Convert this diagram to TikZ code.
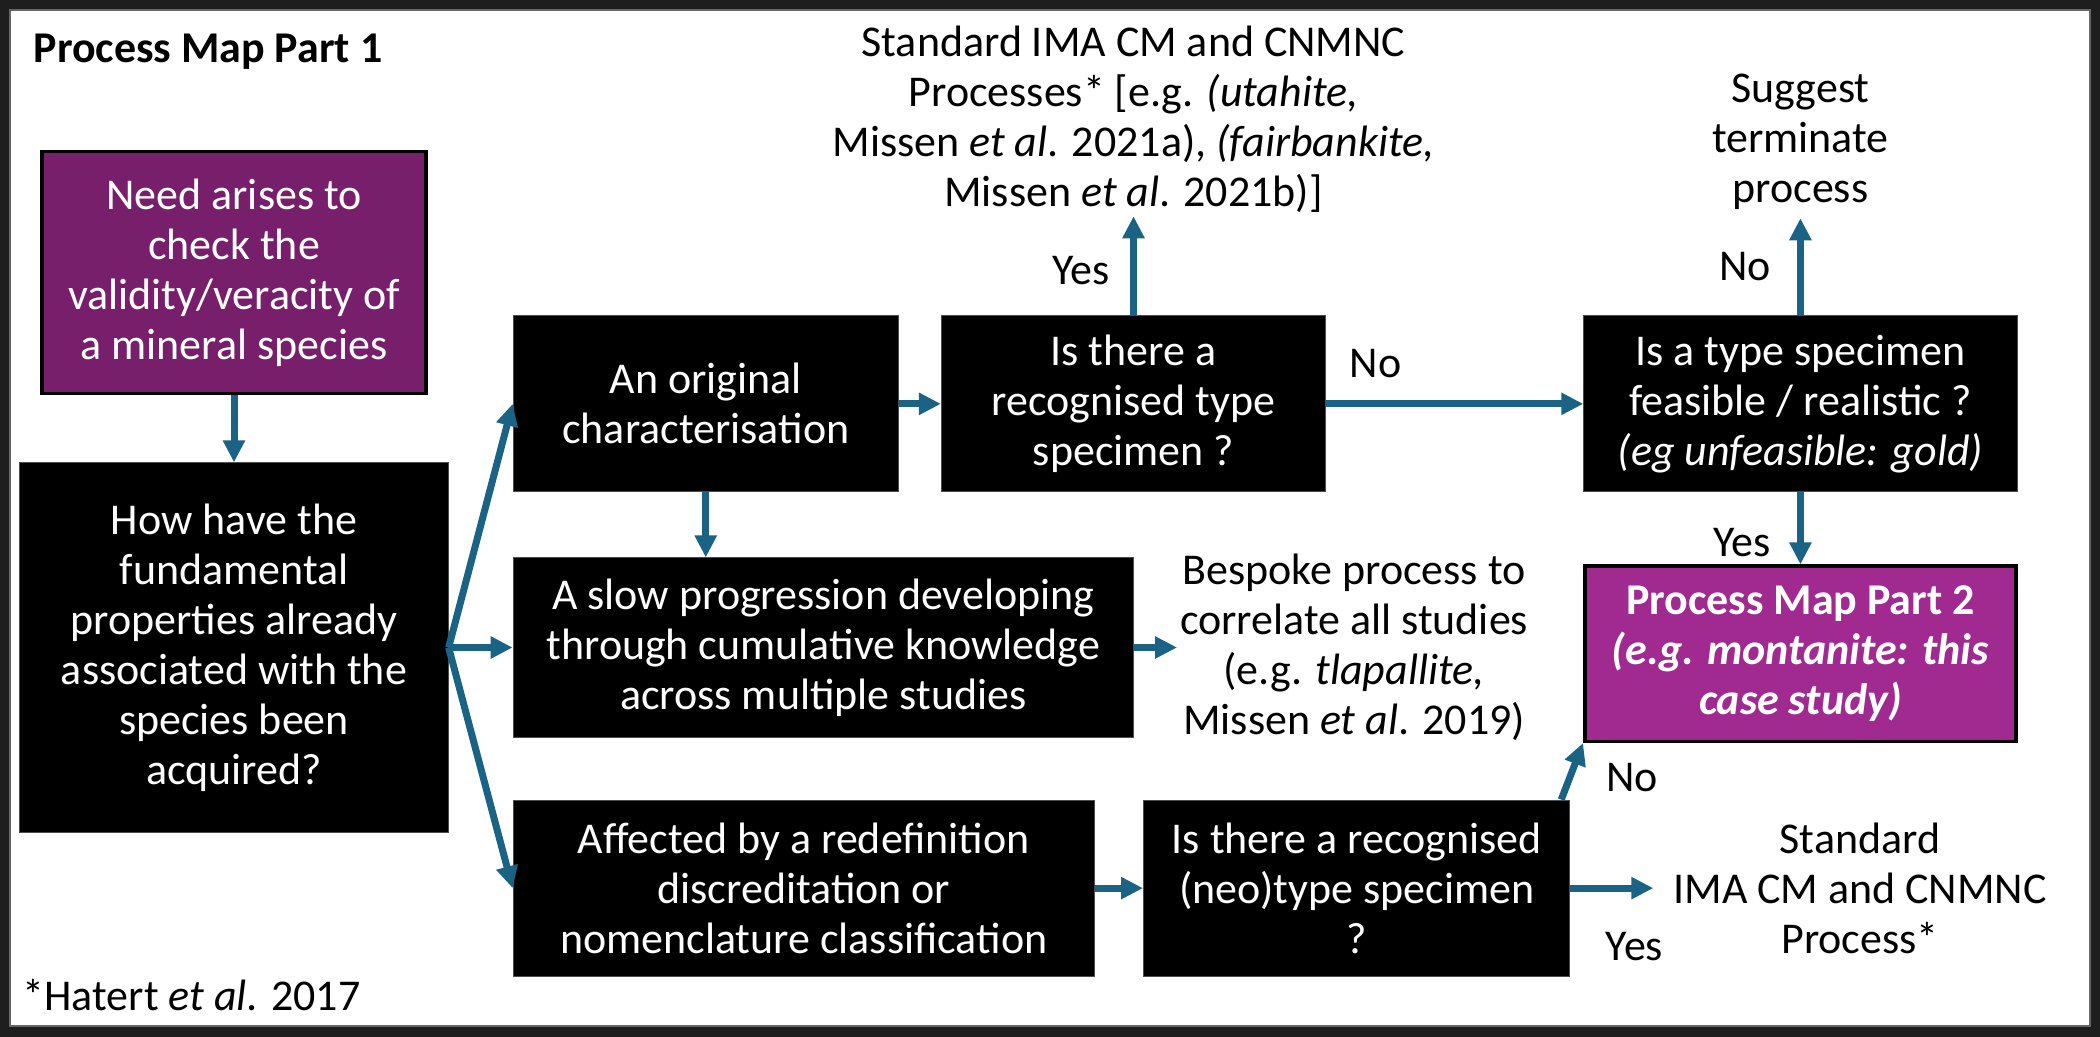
\documentclass[tikz,border=0pt]{standalone}
\usepackage{fontspec}
\setmainfont{Carlito}
\usetikzlibrary{positioning,arrows.meta}
\definecolor{arrowblue}{RGB}{27,99,133}
\definecolor{darkpurple}{RGB}{120,31,108}
\definecolor{lightpurple}{RGB}{160,42,144}
\definecolor{framedark}{RGB}{30,30,30}
\newcommand{\bodyfont}{\fontsize{12.5pt}{14.2pt}\selectfont}

\begin{document}
\begin{tikzpicture}[
		x=0.01cm, y=-0.01cm,
		node distance=0.6cm and 0.5cm,
		blackbox/.style={draw=gray!60!black, line width=0.1mm, fill=black, text=white, align=center, inner sep=0pt, minimum height=1.76cm, font=\bodyfont},
		purplebox/.style={blackbox, draw=black, line width=0.35mm},
		freetext/.style={align=center, inner sep=0pt, font=\bodyfont},
		lbl/.style={inner sep=0pt, text=black, font=\bodyfont},
		arr/.style={-{Triangle[length=2.2mm,width=2.1mm]}, line width=0.7mm, arrowblue}
		]
		% frame
		\useasboundingbox (0,0) rectangle (2100,1037);
		\fill[framedark] (0,0) rectangle (2100,1037);
		\filldraw[fill=white, draw=gray!80!black, line width=0.2mm] (10,10) rectangle (2090,1026);
		\node[lbl, font=\bodyfont\bfseries, anchor=base west] (title) at (33,63) {Process Map Part 1};
		\node[lbl, anchor=base west] (hatert) at (22,1010) {*Hatert \textit{et al}. 2017};
		% boxes
		\node[blackbox, minimum width=4.28cm, minimum height=3.69cm] (how) at (234,647.5) {How have the\\fundamental\\properties already\\associated with the\\species been\\acquired?};
		\node[purplebox, fill=darkpurple, minimum width=3.84cm, minimum height=2.42cm, above=0.67cm of how] (need) {Need arises to\\check the\\validity/veracity of\\a mineral species};
		\node[blackbox, minimum width=6.2cm, minimum height=1.79cm, right=0.64cm of how] (slow) {A slow progression developing\\through cumulative knowledge\\across multiple studies};
		\node[blackbox, minimum width=3.85cm, above=0.65cm of slow.north west, anchor=south west] (orig) {An original\\characterisation};
		\node[blackbox, minimum width=5.81cm, below=0.62cm of slow.south west, anchor=north west] (affected) {Affected by a redefinition\\discreditation or\\nomenclature classification};
		\node[blackbox, minimum width=3.84cm, right=0.42cm of orig] (istype) {Is there a\\recognised type\\specimen ?};
		\node[blackbox, minimum width=4.33cm, right=2.57cm of istype] (feasible) {Is a type specimen\\feasible / realistic ?\\\textit{(eg unfeasible: gold)}};
		\node[purplebox, fill=lightpurple, font=\bodyfont\bfseries, minimum width=4.31cm, minimum height=1.75cm, below=0.72cm of feasible] (part2) {Process Map Part 2\\\textit{(e.g. montanite: this}\\\textit{case study)}};
		\node[blackbox, minimum width=4.26cm, right=0.48cm of affected] (neotype) {Is there a recognised\\(neo)type specimen\\?};
		% outcomes
		\node[freetext, outer sep=0.04cm, above=0.99cm of istype] (stdtop) {Standard IMA CM and CNMNC\\Processes* [e.g. \textit{(utahite,}\\Missen \textit{et al}. 2021a), \textit{(fairbankite,}\\Missen \textit{et al}. 2021b)]};
		\node[freetext, outer sep=0.09cm, above=0.97cm of feasible] (suggest) {Suggest\\terminate\\process};
		\node[freetext, outer sep=0.03cm, right=0.43cm of slow] (bespoke) {Bespoke process to\\correlate all studies\\(e.g. \textit{tlapallite,}\\Missen \textit{et al}. 2019)};
		\node[freetext, outer sep=0.2cm, right=0.83cm of neotype] (stdbot) {Standard\\IMA CM and CNMNC\\Process*};
		\path[arr]
		(need) edge (how)
		(how.east) edge (orig.west)
		(how.east) edge (slow.west)
		(how.east) edge (affected.west)
		(orig.south) edge (orig.south |- slow.north)
		(orig) edge (istype)
		(slow.east) edge (bespoke.west)
		(affected) edge (neotype)
		(istype) edge node[lbl, pos=0.45, left=0.2cm] {Yes} (stdtop)
		(istype) edge node[lbl, pos=0, above right=0.23cm and 0.2cm] {No} (feasible)
		(feasible) edge node[lbl, left=0.26cm] {No} (suggest)
		(feasible) edge node[lbl, pos=0.7, left=0.26cm] {Yes} (part2)
		([xshift=-0.09cm]neotype.north east) edge node[lbl, pos=0.39, right=0.33cm] {No} (part2.south west)
		(neotype.east) edge node[lbl, pos=0, below right=0.41cm and 0.32cm] {Yes} (stdbot.west);
	\end{tikzpicture}
\end{document}
